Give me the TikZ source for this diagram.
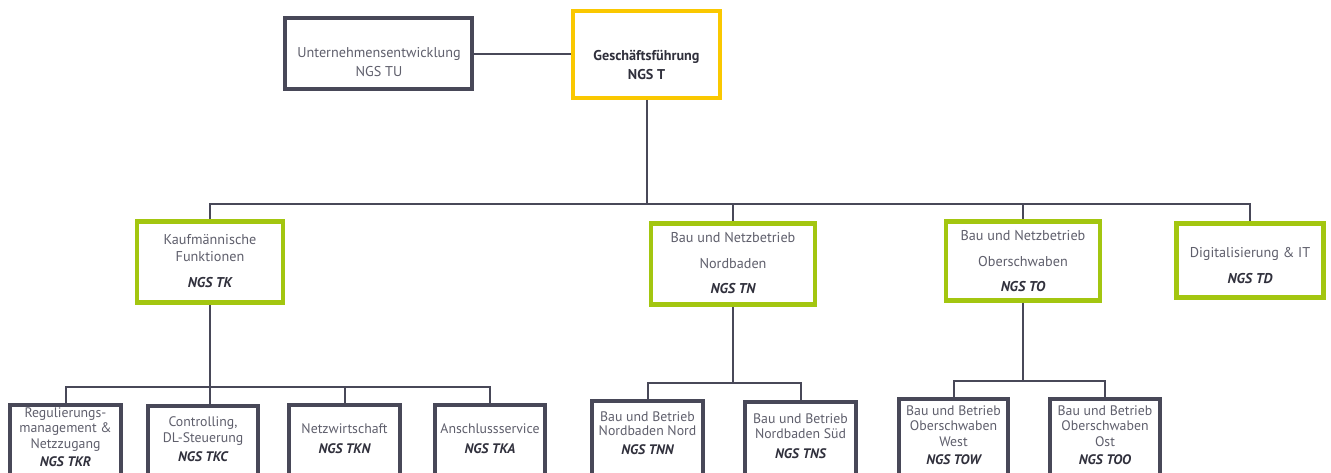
\documentclass[tikz,border=0pt]{standalone}
\usepackage{fontspec}
\setmainfont{PT Sans}
\definecolor{boxdark}{RGB}{72,72,88}
\definecolor{boxgreen}{RGB}{163,198,16}
\definecolor{boxyellow}{RGB}{250,200,0}
\definecolor{txtgray}{RGB}{95,95,108}
\definecolor{txtdark}{RGB}{48,48,60}
\newcommand\ngscode[1]{{\color{txtdark}\bfseries\itshape #1}}
\tikzset{
  orgbox/.style={draw, rectangle, inner sep=0pt, fill=white},
  darkbox/.style={orgbox, draw=boxdark, line width=4pt},
  greenbox/.style={orgbox, draw=boxgreen, line width=4.5pt},
  yellowbox/.style={orgbox, draw=boxyellow, line width=4pt},
  conn/.style={draw=boxdark, line width=2pt},
  txt/.style={text=txtgray, align=center, inner sep=0pt, font=\fontsize{14.2}{17}\selectfont},
  smalltxt/.style={text=txtgray, align=center, inner sep=0pt, font=\fontsize{13.8}{15.5}\selectfont},
}
\begin{document}
\begin{tikzpicture}[x=1pt,y=-1pt]
\useasboundingbox (0,0) rectangle (1331,473);
\clip (0,0) rectangle (1331,473);
\fill[white] (0,0) rectangle (1331,473);

% top level
\node[darkbox, minimum width=187pt, minimum height=71pt] (tu) at (378.5,53.5) {};
\node[yellowbox, minimum width=147pt, minimum height=87pt] (gf) at (646.5,54.5) {};

% second level
\node[greenbox, minimum width=146pt, minimum height=81pt] (tk) at (210,262) {};
\node[greenbox, minimum width=164pt, minimum height=81pt] (tn) at (733,264) {};
\node[greenbox, minimum width=154pt, minimum height=79pt] (to) at (1023,261) {};
\node[greenbox, minimum width=147pt, minimum height=74pt] (td) at (1250,260.5) {};

% third level
\node[darkbox, minimum width=111pt, minimum height=75pt] (tkr) at (65.5,442) {};
\node[darkbox, minimum width=110pt, minimum height=74pt] (tkc) at (203,443) {};
\node[darkbox, minimum width=111pt, minimum height=75pt] (tkn) at (344.5,442) {};
\node[darkbox, minimum width=110pt, minimum height=75pt] (tka) at (490,442) {};
\node[darkbox, minimum width=111pt, minimum height=79pt] (tnn) at (647.5,440) {};
\node[darkbox, minimum width=111pt, minimum height=78pt] (tns) at (800.5,441) {};
\node[darkbox, minimum width=109pt, minimum height=80pt] (tow) at (953.5,439) {};
\node[darkbox, minimum width=110pt, minimum height=80pt] (too) at (1105,439) {};

% connector levels
\coordinate (busA) at (0,204);
\coordinate (busK) at (0,387);
\coordinate (busN) at (0,383);
\coordinate (busO) at (0,381);

\draw[conn] (tu.east |- gf.west) -- (gf.west);
\draw[conn] (gf.south) -- (gf.south |- busA);
\draw[conn] (tk.north) |- (td.north |- busA) -- (td.north);
\draw[conn] (tn.north) -- (tn.north |- busA);
\draw[conn] (to.north) -- (to.north |- busA);

\draw[conn] (tk.south) -- (tk.south |- tkc.north);
\draw[conn] (tkr.north) |- (tka.north |- busK) -- (tka.north);
\draw[conn] (tkn.north) -- (tkn.north |- busK);

\draw[conn] (tn.south) -- (tn.south |- busN);
\draw[conn] (tnn.north) |- (tns.north |- busN) -- (tns.north);

\draw[conn] (to.south) -- (to.south |- busO);
\draw[conn] (tow.north) |- (too.north |- busO) -- (too.north);

% texts
\node[txt] (tut) at (379,62.5) {Unternehmensentwicklung\\[2pt]NGS TU};
\node[txt, text=txtdark, font=\fontsize{14.2}{17}\selectfont\bfseries] (gft) at (646.5,64.5) {Geschäftsführung\\[2pt]NGS T};

\node[txt] (tkt) at (210,261.5) {Kaufmännische\\Funktionen\\[9pt]\ngscode{NGS TK}};
\node[txt] (tnt) at (733,263) {Bau und Netzbetrieb\\[9pt]Nordbaden\\[8pt]\ngscode{NGS TN}};
\node[txt] (tot) at (1023,261) {Bau und Netzbetrieb\\[9pt]Oberschwaben\\[8pt]\ngscode{NGS TO}};
\node[txt] (tdt) at (1250,266) {Digitalisierung \& IT\\[9pt]\ngscode{NGS TD}};

\node[smalltxt] (tkrt) at (65.5,437) {Regulierungs-\\management \&\\Netzzugang\\[3pt]\ngscode{NGS TKR}};
\node[smalltxt] (tkct) at (203,439.5) {Controlling,\\DL-Steuerung\\[4pt]\ngscode{NGS TKC}};
\node[smalltxt] (tknt) at (344.5,438.5) {Netzwirtschaft\\[5pt]\ngscode{NGS TKN}};
\node[smalltxt] (tkat) at (490,438.5) {Anschlussservice\\[5pt]\ngscode{NGS TKA}};
\node[smalltxt] (tnnt) at (647.5,433) {Bau und Betrieb\\[-1pt]Nordbaden Nord\\[3pt]\ngscode{NGS TNN}};
\node[smalltxt] (tnst) at (800.5,436) {Bau und Betrieb\\Nordbaden Süd\\[4pt]\ngscode{NGS TNS}};
\node[smalltxt] (towt) at (953.5,435) {Bau und Betrieb\\Oberschwaben\\West\\[3pt]\ngscode{NGS TOW}};
\node[smalltxt] (toot) at (1105,435) {Bau und Betrieb\\Oberschwaben\\Ost\\[3pt]\ngscode{NGS TOO}};
\end{tikzpicture}
\end{document}
